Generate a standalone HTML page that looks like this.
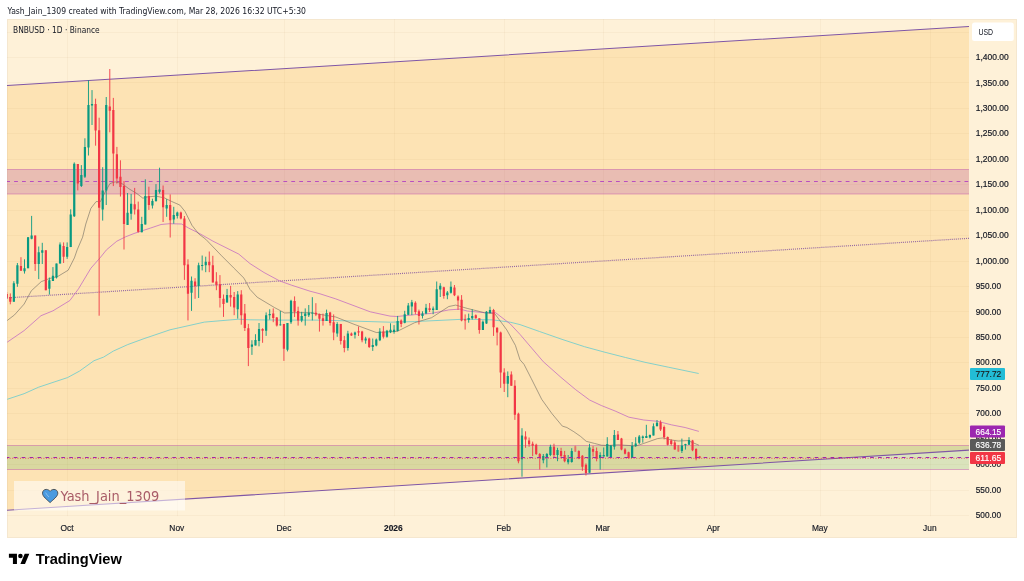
<!DOCTYPE html><html><head><meta charset="utf-8"><title>BNBUSD chart</title><style>
html,body{margin:0;padding:0;background:#fff;}body{width:1024px;height:581px;overflow:hidden;position:relative;}
svg{position:absolute;left:0;top:0;display:block;}
text{font-family:"Liberation Sans","DejaVu Sans",sans-serif;}
</style></head><body>
<svg width="1024" height="581" viewBox="0 0 1024 581">
<defs><clipPath id="pane"><rect x="7" y="19" width="962" height="497.5"/></clipPath></defs>
<rect x="7" y="19" width="1010" height="519" fill="#fef1d8"/>
<g clip-path="url(#pane)">
<polygon points="7,85.6 969,26.5 969,450.1 7,510.2" fill="#fde3b4"/>
<path d="M7 515.5H969 M7 490.5H969 M7 464.5H969 M7 439.5H969 M7 413.5H969 M7 388.5H969 M7 362.5H969 M7 337.5H969 M7 311.5H969 M7 286.5H969 M7 261.5H969 M7 235.5H969 M7 210.5H969 M7 184.5H969 M7 159.5H969 M7 133.5H969 M7 108.5H969 M7 82.5H969 M7 57.5H969 M7 32.5H969 M67.5 19V516.5 M177.5 19V516.5 M284.5 19V516.5 M394.5 19V516.5 M504.5 19V516.5 M603.5 19V516.5 M714.5 19V516.5 M820.5 19V516.5 M930.5 19V516.5" stroke="rgba(150,100,30,0.045)" stroke-width="1" fill="none"/>
<rect x="7" y="169.5" width="962" height="24.5" fill="rgba(156,39,176,0.2)"/>
<path d="M7 169.5H969M7 194H969" stroke="rgba(190,80,170,0.45)" stroke-width="1"/>
<path d="M7 181.5H969" stroke="#b84fc0" stroke-width="1.2" stroke-dasharray="3.8 4.12" stroke-dashoffset="-7.1"/>
<rect x="7" y="445.5" width="962" height="24" fill="rgba(76,175,80,0.2)"/>
<path d="M7 445.5H969M7 469.5H969" stroke="rgba(190,80,170,0.45)" stroke-width="1"/>
<path d="M7 85.6L969 26.5M7 510.2L969 450.1" stroke="#7f56a6" stroke-width="1.05" fill="none"/>
<path d="M7 297.9L969 238.3" stroke="#7a4a9e" stroke-opacity="0.8" stroke-width="1.2" stroke-dasharray="1 1.04" fill="none"/>
<polyline points="7.2,399.3 24.1,393.7 38.6,387.2 53.0,382.4 67.5,377.6 79.5,371.1 94.0,360.7 103.6,357.1 113.3,351.1 127.7,344.6 144.1,338.6 170.0,329.8 204.4,322.1 238.8,319.2 250.0,319.8 280.0,320.1 320.0,320.1 350.0,321.0 390.0,322.2 414.4,321.6 460.0,319.4 467.2,319.2 493.0,319.9 510.2,322.2 520.0,324.6 539.5,331.5 563.0,339.7 584.5,346.7 604.0,352.0 625.5,357.5 645.0,362.3 668.4,367.2 698.7,373.5" stroke="#5cc9d0" stroke-opacity="0.75" stroke-width="1" fill="none"/>
<polyline points="7.2,342.2 24.1,330.6 41.0,315.7 53.0,310.8 69.9,300.5 78.5,288.8 90.9,268.2 100.0,257.9 106.5,249.8 116.8,241.2 125.4,236.9 134.0,233.5 140.3,231.4 150.7,228.0 161.0,224.5 169.6,223.7 181.6,224.0 188.5,228.0 198.8,233.1 213.0,241.2 238.8,254.1 250.0,263.6 264.0,272.5 279.6,280.9 291.6,285.2 310.0,291.2 320.0,293.8 335.8,298.9 370.2,311.8 390.0,316.1 397.2,316.5 414.4,314.7 431.6,313.4 448.8,309.9 460.0,309.1 467.2,311.0 484.4,312.7 495.6,312.7 510.2,323.9 520.0,334.4 531.7,348.1 543.4,361.8 561.0,377.4 575.7,389.7 589.6,400.0 601.3,405.5 615.1,411.0 628.9,417.2 643.8,420.0 657.5,421.3 671.3,424.8 685.1,427.5 698.9,431.4" stroke="#c46cc2" stroke-opacity="0.78" stroke-width="1" fill="none"/>
<polyline points="7.2,320.5 14.5,314.9 24.1,304.1 31.3,290.8 41.3,281.6 49.6,278.5 57.9,276.4 68.2,270.2 74.4,257.9 77.2,249.8 82.6,237.2 85.8,224.0 90.9,208.3 96.1,201.6 100.4,201.6 104.7,193.0 109.9,183.6 115.1,181.8 122.0,183.6 128.8,188.7 136.9,193.6 142.9,198.2 147.2,197.0 155.8,196.1 164.4,197.9 171.3,201.3 179.9,205.1 185.1,211.6 192.0,225.4 198.8,234.0 205.7,239.2 221.6,255.8 233.7,267.9 244.0,278.2 250.0,289.4 257.2,297.2 274.4,307.5 284.7,313.0 291.6,312.7 310.0,312.7 335.8,317.0 353.0,323.9 376.3,332.5 397.2,331.4 414.4,322.8 431.6,317.7 448.8,306.5 455.7,305.1 467.2,308.4 484.4,312.7 494.7,313.6 506.8,329.9 515.4,345.4 520.0,359.8 524.0,364.3 531.3,378.6 541.7,399.3 552.0,413.7 562.3,426.1 566.9,427.5 573.8,431.7 580.7,436.5 586.2,441.3 594.4,443.4 601.3,445.2 608.2,445.5 617.9,444.8 628.9,445.5 635.5,446.1 643.8,443.4 657.5,438.6 663.0,437.9 671.3,440.0 678.2,441.0 687.9,440.6 698.9,445.2" stroke="#6f6a60" stroke-opacity="0.75" stroke-width="0.8" fill="none"/>
<path d="M13.85 281.2V301.7M17.40 263.0V286.8M24.51 259.3V273.6M28.06 237.0V268.2M31.62 215.9V239.3M38.72 246.5V279.1M42.28 242.8V264.0M49.38 277.5V294.6M52.94 267.1V281.0M56.49 263.6V278.5M60.04 242.4V263.6M67.15 242.4V258.9M70.70 209.3V247.1M74.26 162.4V217.0M81.36 165.1V187.0M84.92 138.3V178.0M88.47 80.3V155.5M92.02 90.1V125.0M102.68 167.2V220.6M106.24 97.0V205.0M127.56 193.0V224.9M131.11 193.9V219.7M141.77 216.8V232.3M145.32 179.3V224.5M152.43 198.7V208.5M155.99 184.1V201.3M159.54 167.7V193.6M166.65 199.2V216.8M173.75 206.8V223.7M177.31 211.6V218.5M191.52 276.5V310.9M198.63 262.7V298.0M202.18 255.5V270.4M205.73 256.7V272.2M227.05 288.9V302.6M237.71 291.1V318.6M251.93 340.2V354.9M255.48 334.2V345.4M259.03 323.0V346.3M266.14 312.4V335.9M269.69 309.3V319.6M280.35 311.0V325.6M287.46 323.0V351.4M291.01 299.8V323.9M301.67 311.8V322.2M305.23 308.4V325.6M308.78 305.0V317.0M312.33 297.2V320.4M326.55 309.6V321.0M337.21 322.2V336.8M347.87 330.8V350.6M354.98 331.6V338.5M365.64 336.8V343.7M372.74 338.5V350.9M376.30 338.5V346.3M379.85 328.2V341.1M386.96 329.9V337.7M390.51 323.3V333.1M394.06 325.1V333.7M397.62 315.9V331.4M404.72 310.8V323.3M408.28 303.0V315.1M411.83 299.9V315.1M422.49 311.3V318.5M426.04 303.9V314.2M433.15 306.5V314.2M436.70 281.5V309.9M440.26 283.2V297.0M447.36 291.0V299.2M450.92 281.5V293.6M468.68 313.6V322.7M472.24 309.3V319.6M482.90 320.5V329.9M486.45 311.0V323.9M490.00 306.7V313.6M507.77 371.4V397.2M521.99 428.2V476.7M543.31 454.0V463.3M546.86 453.0V467.4M550.41 444.7V456.1M557.52 447.8V461.2M568.18 455.0V464.3M571.73 448.2V462.7M589.50 443.8V472.7M600.16 452.3V469.6M603.71 447.5V456.5M607.27 437.2V456.5M610.82 445.0V458.0M614.37 430.0V449.6M632.14 442.0V457.9M635.69 437.2V446.8M639.25 435.0V444.0M642.80 435.5V442.7M646.35 424.8V437.9M649.91 434.5V438.5M653.46 423.4V435.5M657.01 420.0V426.2M681.89 438.6V453.0M685.44 443.8V449.6M689.00 437.2V444.8" stroke="#089981" stroke-width="0.9" fill="none"/>
<path d="M12.75 283.3h2.2v18.4h-2.2zM16.30 265.3h2.2v18.4h-2.2zM23.41 268.2h2.2v3.1h-2.2zM26.96 237.2h2.2v31.0h-2.2zM30.52 235.5h2.2v3.3h-2.2zM37.62 252.3h2.2v11.7h-2.2zM41.18 250.2h2.2v2.5h-2.2zM48.28 280.2h2.2v8.6h-2.2zM51.84 275.8h2.2v5.2h-2.2zM55.39 263.6h2.2v13.9h-2.2zM58.94 244.4h2.2v19.2h-2.2zM66.05 247.1h2.2v9.7h-2.2zM69.60 214.5h2.2v32.6h-2.2zM73.16 163.8h2.2v52.5h-2.2zM80.26 175.0h2.2v11.1h-2.2zM83.82 146.9h2.2v29.8h-2.2zM87.37 105.1h2.2v42.3h-2.2zM90.92 103.9h2.2v1.7h-2.2zM101.58 190.4h2.2v19.0h-2.2zM105.14 105.1h2.2v85.3h-2.2zM126.46 212.8h2.2v12.1h-2.2zM130.01 203.7h2.2v10.0h-2.2zM140.67 224.0h2.2v8.3h-2.2zM144.22 196.1h2.2v28.4h-2.2zM151.33 201.0h2.2v4.6h-2.2zM154.89 190.1h2.2v11.2h-2.2zM158.44 189.6h2.2v2.2h-2.2zM165.55 205.1h2.2v3.4h-2.2zM172.65 215.1h2.2v4.3h-2.2zM176.21 212.5h2.2v3.4h-2.2zM190.42 280.8h2.2v12.0h-2.2zM197.53 265.3h2.2v20.6h-2.2zM201.08 264.9h2.2v1.2h-2.2zM204.63 261.8h2.2v3.5h-2.2zM225.95 295.1h2.2v7.5h-2.2zM236.61 294.5h2.2v14.7h-2.2zM250.83 344.5h2.2v2.3h-2.2zM254.38 339.9h2.2v5.5h-2.2zM257.93 329.1h2.2v12.0h-2.2zM265.04 315.3h2.2v15.5h-2.2zM268.59 314.1h2.2v1.2h-2.2zM279.25 324.4h2.2v0.8h-2.2zM286.36 323.0h2.2v26.7h-2.2zM289.91 300.7h2.2v21.5h-2.2zM300.57 316.1h2.2v4.3h-2.2zM304.13 313.6h2.2v2.5h-2.2zM307.68 312.7h2.2v2.6h-2.2zM311.23 312.4h2.2v1.2h-2.2zM325.45 313.0h2.2v8.0h-2.2zM336.11 323.9h2.2v9.5h-2.2zM346.77 333.4h2.2v14.6h-2.2zM353.88 332.5h2.2v2.2h-2.2zM364.54 338.5h2.2v2.1h-2.2zM371.64 345.1h2.2v2.0h-2.2zM375.20 339.4h2.2v6.0h-2.2zM378.75 331.6h2.2v8.6h-2.2zM385.86 330.8h2.2v6.0h-2.2zM389.41 329.7h2.2v2.6h-2.2zM392.96 329.7h2.2v2.2h-2.2zM396.52 321.1h2.2v9.8h-2.2zM403.62 314.2h2.2v8.6h-2.2zM407.18 305.6h2.2v9.1h-2.2zM410.73 302.2h2.2v4.3h-2.2zM421.39 313.4h2.2v2.5h-2.2zM424.94 307.8h2.2v5.6h-2.2zM432.05 308.5h2.2v1.4h-2.2zM435.60 289.3h2.2v20.6h-2.2zM439.16 285.8h2.2v3.8h-2.2zM446.26 292.4h2.2v2.9h-2.2zM449.82 286.7h2.2v6.0h-2.2zM467.58 317.9h2.2v2.0h-2.2zM471.14 316.1h2.2v2.1h-2.2zM481.80 321.7h2.2v8.2h-2.2zM485.35 311.8h2.2v11.6h-2.2zM488.90 310.1h2.2v2.9h-2.2zM506.67 376.1h2.2v7.7h-2.2zM520.89 435.4h2.2v23.8h-2.2zM542.21 456.1h2.2v4.1h-2.2zM545.76 454.0h2.2v3.1h-2.2zM549.31 446.8h2.2v8.2h-2.2zM556.42 449.9h2.2v5.1h-2.2zM567.08 459.2h2.2v3.1h-2.2zM570.63 451.0h2.2v11.0h-2.2zM588.40 447.5h2.2v25.2h-2.2zM599.06 455.1h2.2v2.8h-2.2zM602.61 455.1h2.2v1.4h-2.2zM606.17 444.1h2.2v12.4h-2.2zM609.72 445.5h2.2v12.1h-2.2zM613.27 435.1h2.2v11.7h-2.2zM631.04 446.1h2.2v11.8h-2.2zM634.59 443.4h2.2v2.7h-2.2zM638.15 436.5h2.2v6.2h-2.2zM641.70 436.5h2.2v1.4h-2.2zM645.25 436.1h2.2v1.8h-2.2zM648.81 435.1h2.2v2.4h-2.2zM652.36 426.2h2.2v9.3h-2.2zM655.91 422.7h2.2v3.5h-2.2zM680.79 445.5h2.2v5.5h-2.2zM684.34 444.1h2.2v1.1h-2.2zM687.89 440.0h2.2v4.8h-2.2z" fill="#089981"/>
<path d="M6.74 292.0V299.0M10.30 293.4V304.3M20.96 257.2V270.7M35.17 235.5V270.9M45.83 250.2V290.3M63.60 242.4V263.0M77.81 164.1V190.4M95.58 98.7V145.7M99.13 117.7V315.7M109.79 69.0V132.3M113.34 97.9V186.1M116.90 146.9V183.6M120.45 160.3V196.5M124.00 181.0V249.5M134.66 187.9V214.5M138.22 201.6V232.6M148.88 186.7V209.9M163.09 185.5V222.0M170.20 194.4V237.5M180.86 211.6V219.4M184.41 216.0V279.9M187.97 259.3V320.4M195.07 278.2V298.8M209.29 251.5V272.2M212.84 255.8V282.5M216.39 272.2V290.2M219.95 275.1V307.5M223.50 294.5V316.9M230.61 285.9V306.6M234.16 292.0V315.2M241.27 290.2V324.7M244.82 304.0V331.0M248.37 323.9V366.1M262.59 328.2V342.8M273.25 308.4V322.2M276.80 317.0V326.5M283.91 323.9V360.9M294.57 296.4V317.0M298.12 306.7V325.6M315.89 303.2V316.1M319.44 313.6V331.6M322.99 313.6V325.6M330.10 311.8V325.6M333.65 314.4V340.2M340.76 323.9V344.5M344.32 335.9V352.3M351.42 332.5V336.0M358.53 326.5V336.0M362.08 330.8V342.3M369.19 337.7V348.0M383.40 326.1V338.5M401.17 319.4V327.1M415.38 301.3V314.2M418.94 309.6V324.5M429.60 303.0V312.0M443.81 286.7V298.7M454.47 285.0V296.1M458.02 295.3V309.9M461.58 295.1V321.3M465.13 314.4V329.6M475.79 314.4V318.7M479.34 318.2V333.7M493.56 308.9V335.9M497.11 327.3V345.4M500.66 331.6V387.9M504.22 368.3V392.0M511.33 371.4V385.8M514.88 380.2V419.9M518.43 412.7V463.3M525.54 431.3V447.8M529.09 437.5V446.8M532.65 441.6V456.1M536.20 443.7V455.0M539.75 453.0V469.5M553.97 443.7V457.1M561.07 447.8V458.1M564.63 450.9V462.3M578.84 450.3V459.2M582.39 455.1V470.9M585.95 463.4V475.5M593.05 446.1V456.5M596.61 447.5V461.3M617.93 431.0V439.9M621.48 437.9V450.3M625.03 448.2V454.4M628.59 451.7V458.5M660.57 420.4V431.0M664.12 425.5V439.3M667.67 436.5V445.5M671.23 439.3V445.5M674.78 440.6V449.6M692.55 439.9V451.2M696.10 448.2V460.3M699.66 456.0V458.5" stroke="#f23645" stroke-width="0.9" fill="none"/>
<path d="M5.64 294.0h2.2v3.5h-2.2zM9.20 297.1h2.2v4.6h-2.2zM19.86 266.1h2.2v4.6h-2.2zM34.07 235.5h2.2v28.5h-2.2zM44.73 250.2h2.2v40.1h-2.2zM62.50 245.9h2.2v10.9h-2.2zM76.71 164.1h2.2v19.5h-2.2zM94.48 103.9h2.2v26.7h-2.2zM98.03 130.2h2.2v77.5h-2.2zM108.69 106.5h2.2v4.3h-2.2zM112.24 109.9h2.2v43.5h-2.2zM115.80 154.3h2.2v24.1h-2.2zM119.35 176.7h2.2v10.3h-2.2zM122.90 186.1h2.2v37.9h-2.2zM133.56 204.2h2.2v5.2h-2.2zM137.12 209.4h2.2v22.4h-2.2zM147.78 196.1h2.2v9.0h-2.2zM161.99 190.1h2.2v17.2h-2.2zM169.10 205.1h2.2v15.1h-2.2zM179.76 212.5h2.2v6.0h-2.2zM183.31 218.5h2.2v46.8h-2.2zM186.87 264.4h2.2v29.3h-2.2zM193.97 281.6h2.2v4.3h-2.2zM208.19 261.8h2.2v3.5h-2.2zM211.74 265.3h2.2v17.2h-2.2zM215.29 281.6h2.2v3.1h-2.2zM218.85 284.2h2.2v13.8h-2.2zM222.40 298.8h2.2v5.2h-2.2zM229.51 295.1h2.2v2.4h-2.2zM233.06 297.1h2.2v10.4h-2.2zM240.17 294.5h2.2v20.7h-2.2zM243.72 313.5h2.2v14.6h-2.2zM247.27 328.2h2.2v19.8h-2.2zM261.49 329.1h2.2v1.7h-2.2zM272.15 313.6h2.2v4.3h-2.2zM275.70 317.5h2.2v8.1h-2.2zM282.81 323.9h2.2v24.9h-2.2zM293.47 301.0h2.2v10.8h-2.2zM297.02 311.0h2.2v9.4h-2.2zM314.79 312.7h2.2v1.7h-2.2zM318.34 314.1h2.2v4.6h-2.2zM321.89 318.2h2.2v2.8h-2.2zM329.00 312.4h2.2v10.6h-2.2zM332.55 322.2h2.2v10.3h-2.2zM339.66 323.9h2.2v17.2h-2.2zM343.22 340.2h2.2v7.8h-2.2zM350.32 333.4h2.2v2.0h-2.2zM357.43 331.3h2.2v1.2h-2.2zM360.98 331.6h2.2v8.6h-2.2zM368.09 338.5h2.2v8.6h-2.2zM382.30 331.6h2.2v5.2h-2.2zM400.07 320.6h2.2v3.4h-2.2zM414.28 302.7h2.2v9.3h-2.2zM417.84 311.3h2.2v4.6h-2.2zM428.50 308.2h2.2v1.7h-2.2zM442.71 287.2h2.2v8.9h-2.2zM453.37 287.5h2.2v7.8h-2.2zM456.92 296.5h2.2v3.9h-2.2zM460.48 299.8h2.2v20.6h-2.2zM464.03 319.2h2.2v1.2h-2.2zM474.69 315.3h2.2v2.9h-2.2zM478.24 318.2h2.2v11.7h-2.2zM492.46 310.1h2.2v17.2h-2.2zM496.01 327.8h2.2v4.7h-2.2zM499.56 332.5h2.2v39.9h-2.2zM503.12 372.4h2.2v11.4h-2.2zM510.23 374.5h2.2v11.3h-2.2zM513.78 385.8h2.2v29.0h-2.2zM517.33 413.7h2.2v47.5h-2.2zM524.44 436.4h2.2v3.1h-2.2zM527.99 440.6h2.2v3.7h-2.2zM531.55 443.7h2.2v2.0h-2.2zM535.10 444.7h2.2v9.3h-2.2zM538.65 454.0h2.2v4.1h-2.2zM552.87 446.8h2.2v8.2h-2.2zM559.97 450.9h2.2v5.2h-2.2zM563.53 455.0h2.2v6.2h-2.2zM577.74 451.0h2.2v7.5h-2.2zM581.29 455.8h2.2v11.0h-2.2zM584.85 464.7h2.2v8.3h-2.2zM591.95 448.9h2.2v2.8h-2.2zM595.51 451.0h2.2v7.5h-2.2zM616.83 434.4h2.2v5.5h-2.2zM620.38 438.6h2.2v11.0h-2.2zM623.93 449.6h2.2v4.1h-2.2zM627.49 452.3h2.2v5.6h-2.2zM659.47 422.3h2.2v7.3h-2.2zM663.02 426.9h2.2v10.3h-2.2zM666.57 436.9h2.2v7.9h-2.2zM670.13 440.6h2.2v3.5h-2.2zM673.68 442.4h2.2v7.2h-2.2zM691.45 440.6h2.2v9.7h-2.2zM695.00 448.9h2.2v9.6h-2.2zM698.56 456.5h2.2v1.3h-2.2z" fill="#f23645"/>
<path d="M575.29 445.5V452.0" stroke="#f23645" stroke-width="0.9" opacity="0.45"/>
<path d="M574.19 446.2h2.2v5.5h-2.2z" fill="#f23645" opacity="0.45"/>
<path d="M678.33 445.0V452.0" stroke="#f23645" stroke-width="0.9" opacity="0.5"/>
<path d="M677.23 445.5h2.2v6.0h-2.2z" fill="#f23645" opacity="0.5"/>
<path d="M7 457.5H969" stroke="#9c27b0" stroke-width="1.2" stroke-dasharray="3.6 4.33" stroke-dashoffset="-6.73"/>
<path d="M7 458.3H969" stroke="#f23645" stroke-width="1" stroke-dasharray="1 1.6" stroke-opacity="0.8"/>
</g>
<rect x="7.5" y="19.5" width="1009" height="518" fill="none" stroke="rgba(120,110,90,0.065)" stroke-width="1"/>
<rect x="14" y="481" width="171" height="29.5" fill="rgba(255,255,255,0.55)"/>
<path d="M50.1 502.6 C47 499.6 42.5 496.5 42.5 493.2 C42.5 490.8 44.2 489.4 46.2 489.4 C47.8 489.4 49.3 490.2 50.1 491.3 C50.9 490.2 52.4 489.4 54 489.4 C56 489.4 57.8 490.8 57.8 493.2 C57.8 496.5 53.2 499.6 50.1 502.6Z" fill="#4a9be0" stroke="#404850" stroke-width="0.9"/>
<path d="M45.6 492.6 Q46.8 495 49 497" stroke="rgba(255,255,255,0.35)" stroke-width="1" fill="none"/>
<text x="60.5" y="501.3" font-size="14.6" fill="#a95c68" style="font-family:DejaVu Sans,sans-serif" textLength="98.7" lengthAdjust="spacingAndGlyphs">Yash_Jain_1309</text>
<rect x="972" y="22.6" width="41.8" height="18.5" rx="2.5" fill="#ffffff"/>
<text x="978.5" y="35.0" font-size="8.8" fill="#131722" textLength="14.6" lengthAdjust="spacingAndGlyphs">USD</text>
<text x="975.7" y="518.1" font-size="8.6" fill="#131722" stroke="#131722" stroke-width="0.18" textLength="25.3" lengthAdjust="spacingAndGlyphs">500.00</text>
<text x="975.7" y="492.7" font-size="8.6" fill="#131722" stroke="#131722" stroke-width="0.18" textLength="25.3" lengthAdjust="spacingAndGlyphs">550.00</text>
<text x="975.7" y="467.2" font-size="8.6" fill="#131722" stroke="#131722" stroke-width="0.18" textLength="25.3" lengthAdjust="spacingAndGlyphs">600.00</text>
<text x="975.7" y="441.8" font-size="8.6" fill="#131722" stroke="#131722" stroke-width="0.18" textLength="25.3" lengthAdjust="spacingAndGlyphs">650.00</text>
<text x="975.7" y="416.3" font-size="8.6" fill="#131722" stroke="#131722" stroke-width="0.18" textLength="25.3" lengthAdjust="spacingAndGlyphs">700.00</text>
<text x="975.7" y="390.9" font-size="8.6" fill="#131722" stroke="#131722" stroke-width="0.18" textLength="25.3" lengthAdjust="spacingAndGlyphs">750.00</text>
<text x="975.7" y="365.4" font-size="8.6" fill="#131722" stroke="#131722" stroke-width="0.18" textLength="25.3" lengthAdjust="spacingAndGlyphs">800.00</text>
<text x="975.7" y="340.0" font-size="8.6" fill="#131722" stroke="#131722" stroke-width="0.18" textLength="25.3" lengthAdjust="spacingAndGlyphs">850.00</text>
<text x="975.7" y="314.6" font-size="8.6" fill="#131722" stroke="#131722" stroke-width="0.18" textLength="25.3" lengthAdjust="spacingAndGlyphs">900.00</text>
<text x="975.7" y="289.1" font-size="8.6" fill="#131722" stroke="#131722" stroke-width="0.18" textLength="25.3" lengthAdjust="spacingAndGlyphs">950.00</text>
<text x="975.7" y="263.7" font-size="8.6" fill="#131722" stroke="#131722" stroke-width="0.18" textLength="33.0" lengthAdjust="spacingAndGlyphs">1,000.00</text>
<text x="975.7" y="238.2" font-size="8.6" fill="#131722" stroke="#131722" stroke-width="0.18" textLength="33.0" lengthAdjust="spacingAndGlyphs">1,050.00</text>
<text x="975.7" y="212.8" font-size="8.6" fill="#131722" stroke="#131722" stroke-width="0.18" textLength="33.0" lengthAdjust="spacingAndGlyphs">1,100.00</text>
<text x="975.7" y="187.3" font-size="8.6" fill="#131722" stroke="#131722" stroke-width="0.18" textLength="33.0" lengthAdjust="spacingAndGlyphs">1,150.00</text>
<text x="975.7" y="161.9" font-size="8.6" fill="#131722" stroke="#131722" stroke-width="0.18" textLength="33.0" lengthAdjust="spacingAndGlyphs">1,200.00</text>
<text x="975.7" y="136.4" font-size="8.6" fill="#131722" stroke="#131722" stroke-width="0.18" textLength="33.0" lengthAdjust="spacingAndGlyphs">1,250.00</text>
<text x="975.7" y="111.0" font-size="8.6" fill="#131722" stroke="#131722" stroke-width="0.18" textLength="33.0" lengthAdjust="spacingAndGlyphs">1,300.00</text>
<text x="975.7" y="85.5" font-size="8.6" fill="#131722" stroke="#131722" stroke-width="0.18" textLength="33.0" lengthAdjust="spacingAndGlyphs">1,350.00</text>
<text x="975.7" y="60.1" font-size="8.6" fill="#131722" stroke="#131722" stroke-width="0.18" textLength="33.0" lengthAdjust="spacingAndGlyphs">1,400.00</text>
<rect x="970" y="367.9" width="35" height="12" rx="1" fill="#22bcd6"/>
<text x="975.6" y="377.0" font-size="8.7" fill="#1a1a1a" stroke="#1a1a1a" stroke-width="0.15" textLength="25.6" lengthAdjust="spacingAndGlyphs">777.72</text>
<rect x="970" y="425.6" width="35" height="12" rx="1" fill="#9c27b0"/>
<text x="975.6" y="434.7" font-size="8.7" fill="#ffffff" stroke="#ffffff" stroke-width="0.15" textLength="25.6" lengthAdjust="spacingAndGlyphs">664.15</text>
<rect x="970" y="439.0" width="35" height="12" rx="1" fill="#5a5a5a"/>
<text x="975.6" y="448.1" font-size="8.7" fill="#ffffff" stroke="#ffffff" stroke-width="0.15" textLength="25.6" lengthAdjust="spacingAndGlyphs">636.78</text>
<rect x="970" y="452.0" width="35" height="12" rx="1" fill="#f23645"/>
<text x="975.6" y="461.1" font-size="8.7" fill="#ffffff" stroke="#ffffff" stroke-width="0.15" textLength="25.6" lengthAdjust="spacingAndGlyphs">611.65</text>
<text x="67.0" y="530.8" font-size="8.4" fill="#131722" stroke="#131722" stroke-width="0.15" text-anchor="middle">Oct</text>
<text x="176.8" y="530.8" font-size="8.4" fill="#131722" stroke="#131722" stroke-width="0.15" text-anchor="middle">Nov</text>
<text x="284.0" y="530.8" font-size="8.4" fill="#131722" stroke="#131722" stroke-width="0.15" text-anchor="middle">Dec</text>
<text x="393.3" y="530.8" font-size="8.4" fill="#131722" stroke="#131722" stroke-width="0.15" text-anchor="middle" font-weight="bold">2026</text>
<text x="503.7" y="530.8" font-size="8.4" fill="#131722" stroke="#131722" stroke-width="0.15" text-anchor="middle">Feb</text>
<text x="602.7" y="530.8" font-size="8.4" fill="#131722" stroke="#131722" stroke-width="0.15" text-anchor="middle">Mar</text>
<text x="713.3" y="530.8" font-size="8.4" fill="#131722" stroke="#131722" stroke-width="0.15" text-anchor="middle">Apr</text>
<text x="819.8" y="530.8" font-size="8.4" fill="#131722" stroke="#131722" stroke-width="0.15" text-anchor="middle">May</text>
<text x="929.8" y="530.8" font-size="8.4" fill="#131722" stroke="#131722" stroke-width="0.15" text-anchor="middle">Jun</text>
<text x="13" y="32.8" font-size="8.2" fill="#131722" style="font-family:DejaVu Sans,sans-serif" textLength="86.7" lengthAdjust="spacingAndGlyphs">BNBUSD · 1D · Binance</text>
<text x="7.5" y="13.7" font-size="8.6" fill="#131722" style="font-family:DejaVu Sans,sans-serif" textLength="298.5" lengthAdjust="spacingAndGlyphs">Yash_Jain_1309 created with TradingView.com, Mar 28, 2026 16:32 UTC+5:30</text>
<g transform="translate(8.9 551.4) scale(0.575)" fill="#000"><path d="M14 22H7V11H0V4h14v18zM28 22h-8l7.5-18h8L28 22z"/><circle cx="20" cy="8" r="4"/></g>
<text x="35.8" y="564.3" font-size="14.6" font-weight="bold" fill="#000" textLength="86" lengthAdjust="spacingAndGlyphs">TradingView</text>
</svg></body></html>
